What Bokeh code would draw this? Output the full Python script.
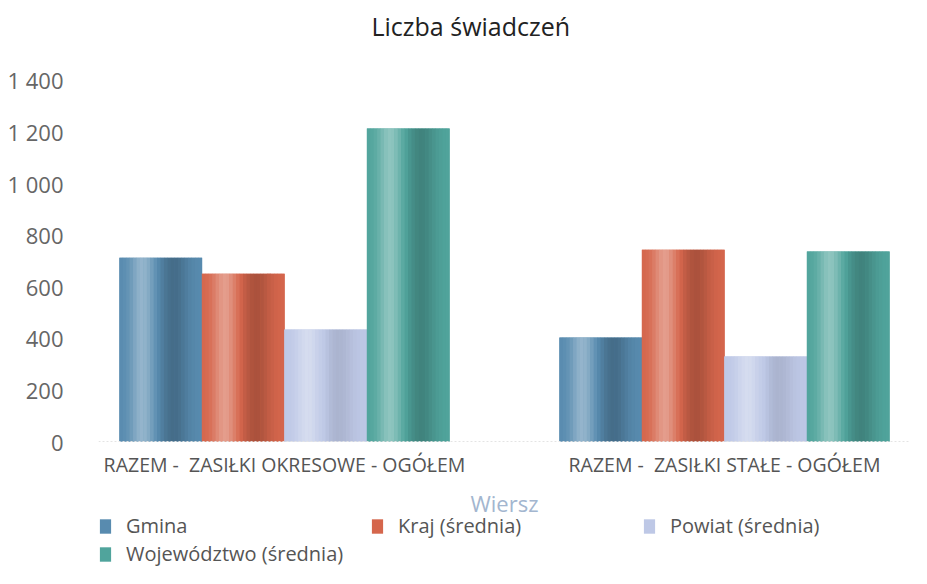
import math
from bokeh.plotting import figure
from bokeh.models import (FactorRange, ColumnDataSource, FixedTicker,
                          CustomJSTickFormatter, Legend, LegendItem)
from bokeh.transform import dodge
from bokeh.embed import file_html
from bokeh.resources import INLINE

# ---- data ----
categories = ["RAZEM -\u00a0 ZASIŁKI OKRESOWE - OGÓŁEM", "RAZEM -\u00a0 ZASIŁKI STAŁE - OGÓŁEM"]
series = ["Gmina", "Kraj (średnia)", "Powiat (średnia)", "Województwo (średnia)"]
gmina = [713, 403]
kraj = [651, 744]
powiat = [434, 330]
wojewodztwo = [1214, 737]
y_ticks = [0, 200, 400, 600, 800, 1000, 1200, 1400]

values = {series[0]: gmina, series[1]: kraj, series[2]: powiat, series[3]: wojewodztwo}
base_colors = {series[0]: (88, 139, 175), series[1]: (213, 102, 76),
               series[2]: (190, 200, 230), series[3]: (80, 164, 156)}
dark_amt = {series[0]: 0.22, series[1]: 0.2, series[2]: 0.1, series[3]: 0.2}

x_range = FactorRange(*categories, factor_padding=1.0, range_padding=0.3455,
                      range_padding_units="absolute")

# frame extends below the zero line to host the axis labels and the legend
p = figure(x_range=x_range, y_range=(-492.5, 1539.6), width=911, height=568,
           output_backend="svg", toolbar_location=None,
           min_border_left=98, min_border_right=1, min_border_top=44,
           min_border_bottom=0)
p.outline_line_color = None
p.background_fill_color = "white"
p.border_fill_color = "white"

def hexc(rgb):
    return "#%02x%02x%02x" % tuple(max(0, min(255, int(round(v)))) for v in rgb)

def shade(rgb, t, dk):
    s = 0.36 * math.exp(-((t - 0.28) / 0.14) ** 2) - dk * math.exp(-((t - 0.66) / 0.17) ** 2)
    if s >= 0:
        return hexc([v + (255 - v) * s for v in rgb])
    return hexc([v * (1 + s) for v in rgb])

bar_w = 0.375
n_strips = 24
legend_items = []
for k, s in enumerate(series):
    center = (k - 1.5) * bar_w
    src = ColumnDataSource(dict(x=categories, top=values[s]))
    base = p.vbar(x=dodge("x", center, range=x_range), top="top", bottom=0, width=bar_w,
                  source=src, fill_color=hexc(base_colors[s]), line_color=None)
    for i in range(n_strips):
        t = (i + 0.5) / n_strips
        off = center + (t - 0.5) * bar_w
        p.vbar(x=dodge("x", off, range=x_range), top="top", bottom=0,
               width=bar_w / n_strips + 0.002,
               source=src, fill_color=shade(base_colors[s], t, dark_amt[s]),
               line_color=None)
    legend_items.append(LegendItem(label=s, renderers=[base]))

# y axis
p.yaxis.ticker = FixedTicker(ticks=y_ticks)
p.yaxis.formatter = CustomJSTickFormatter(
    code="return tick.toFixed(0).replace(/\\B(?=(\\d{3})+(?!\\d))/g, ' ');")
p.yaxis.axis_line_color = None
p.yaxis.major_tick_line_color = None
p.yaxis.minor_tick_line_color = None
p.yaxis.major_tick_out = 0
p.yaxis.major_label_standoff = 35
p.yaxis.major_label_text_font = "Open Sans"
p.yaxis.major_label_text_font_size = "22px"
p.yaxis.major_label_text_color = "#666666"
p.ygrid.grid_line_color = None
p.xgrid.grid_line_color = None

# x axis, pinned to the zero line
p.xaxis.fixed_location = 0
p.xaxis.axis_line_color = "#e4e4e4"
p.xaxis.axis_line_dash = "2 2"
p.xaxis.major_tick_line_color = None
p.xaxis.minor_tick_line_color = None
p.xaxis.major_tick_out = 0
p.xaxis.major_label_text_font = "Open Sans"
p.xaxis.major_label_text_font_size = "19.5px"
p.xaxis.major_label_text_color = "#555555"
p.xaxis.major_label_standoff = 9
p.xaxis.axis_label = "Wiersz"
p.xaxis.axis_label_text_font = "Open Sans"
p.xaxis.axis_label_text_font_size = "22px"
p.xaxis.axis_label_text_font_style = "normal"
p.xaxis.axis_label_text_color = "#a3b6cf"
p.xaxis.axis_label_standoff = 7

# title
p.title.text = "Liczba świadczeń"
p.title.align = "left"
p.title.offset = 273
p.title.text_font = "Open Sans"
p.title.text_font_size = "25px"
p.title.text_font_style = "normal"
p.title.text_color = "#222222"
p.title.standoff = 4

legend = Legend(items=legend_items, orientation="horizontal", ncols=3,
                location=(0, 1), glyph_width=14, glyph_height=18,
                label_width=243, label_standoff=14, spacing=1, padding=0,
                margin=0, border_line_alpha=0, background_fill_alpha=0,
                label_text_font="Open Sans", label_text_font_size="20px",
                label_text_color="#555555", label_height=20)
p.add_layout(legend)

open("out.html", "w").write(file_html(p, INLINE))
